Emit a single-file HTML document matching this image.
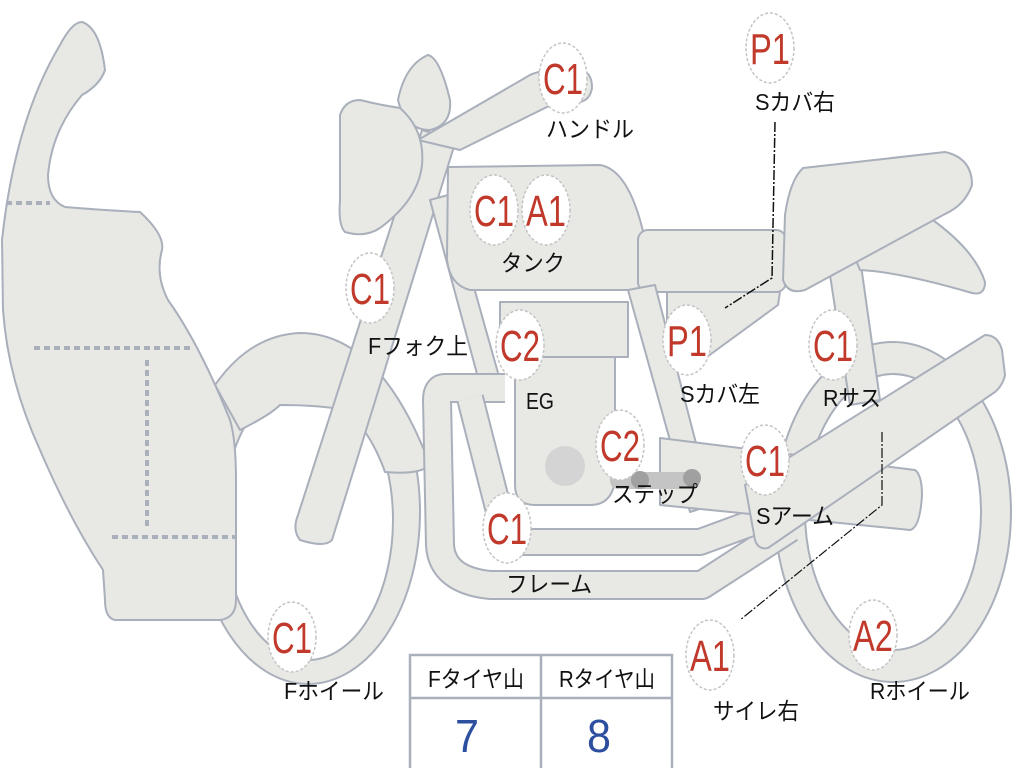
<!DOCTYPE html>
<html><head><meta charset="utf-8"><style>
html,body{margin:0;padding:0;background:#fff;}
svg{display:block;}
.s{fill:#e8e8e4;stroke:#a9afbb;stroke-width:2;stroke-linejoin:round;}
.b{fill:#fff;stroke:#c4c4c4;stroke-width:1.5;stroke-dasharray:3 2;}
.r{fill:#c0392b;font-family:"Liberation Sans",sans-serif;font-size:44px;}
.l{fill:#111;font-family:"Liberation Sans","Noto Sans CJK JP",sans-serif;font-size:23px;}
</style></head><body>
<svg width="1024" height="768" viewBox="0 0 1024 768" xmlns="http://www.w3.org/2000/svg">
<!-- rear wheel -->
<ellipse cx="893" cy="512" rx="118" ry="170" class="s"/>
<ellipse cx="893" cy="512" rx="88" ry="138" fill="#fff" stroke="#a9afbb" stroke-width="2"/>
<!-- front wheel -->
<ellipse cx="308" cy="512" rx="112" ry="172" class="s"/>
<ellipse cx="308" cy="520" rx="85" ry="140" fill="#fff" stroke="#a9afbb" stroke-width="2"/>
<!-- fender -->
<path class="s" d="M215 385 Q250 335 300 333 Q380 333 430 465 Q420 475 385 472 Q370 430 345 410 Q320 405 280 405 Q270 415 240 430 Z"/>
<!-- fork -->
<path class="s" d="M422 130 L456 140 L332 540 Q325 548 300 540 Q292 530 298 515 Z"/>
<!-- handlebar -->
<path class="s" d="M418 140 L530 75 Q540 70 560 70 L585 72 Q592 75 592 88 Q590 100 580 102 L555 103 L460 150 Z"/>
<!-- top blob -->
<path class="s" d="M398 100 Q405 65 428 55 Q440 58 450 100 Q452 125 430 130 Q405 130 398 100 Z"/>
<!-- headlight -->
<path class="s" d="M340 115 Q345 100 360 100 Q380 105 400 108 Q425 130 422 165 Q418 200 380 228 Q365 238 345 232 Q338 225 340 200 Z"/>
<!-- frame down tube -->
<path class="s" d="M430 200 L448 195 L500 380 L480 385 Z"/>
<!-- tank -->
<path class="s" d="M448 167 L600 165 Q630 170 645 240 L646 290 L470 290 Q450 285 447 260 Z"/>
<!-- seat -->
<rect x="638" y="230" width="148" height="62" rx="10" class="s"/>
<!-- side cover right -->
<path class="s" d="M667 292 L780 292 L778 305 L700 362 L667 360 Z"/>
<!-- shock -->
<path class="s" d="M828 262 L860 258 L880 400 L850 405 Z"/>
<!-- tail fin -->
<path class="s" d="M840 222 L930 218 Q975 250 985 282 Q985 296 972 293 Q900 272 860 270 Z"/>
<!-- rear cowl -->
<path class="s" d="M803 168 L945 152 Q972 158 972 185 Q965 205 945 214 L805 290 Q788 295 783 280 L785 215 Q790 180 803 168 Z"/>
<!-- frame vertical (S cover left area) -->
<path class="s" d="M628 290 L655 285 L712 505 L690 512 Z"/>
<!-- frame loops -->
<path d="M505 388 L445 388 Q437 388 437 400 L440 545 Q442 580 490 585 L702 585 L790 528" fill="none" stroke="#a9afbb" stroke-width="30" stroke-linejoin="round"/>
<path d="M505 388 L445 388 Q437 388 437 400 L440 545 Q442 580 490 585 L702 585 L790 528" fill="none" stroke="#e8e8e4" stroke-width="26" stroke-linejoin="round"/>
<path d="M470 398 L505 535 Q510 542 520 542 L700 542 L760 520" fill="none" stroke="#a9afbb" stroke-width="28" stroke-linejoin="round"/>
<path d="M470 398 L505 535 Q510 542 520 542 L700 542 L760 520" fill="none" stroke="#e8e8e4" stroke-width="24" stroke-linejoin="round"/>
<!-- engine -->
<path class="s" d="M515 355 L615 355 L615 480 Q612 505 590 505 L535 505 Q515 505 515 485 Z"/>
<rect x="500" y="302" width="128" height="55" class="s"/>
<circle cx="565" cy="466" r="20" fill="#d4d4d4"/>
<!-- Sarm lower bar -->
<path class="s" d="M660 438 L915 470 Q922 475 922 495 Q920 528 910 530 L660 505 Z"/>
<!-- steps -->
<rect x="610" y="472" width="90" height="17" rx="8" fill="#c4c4c4"/>
<circle cx="640" cy="480" r="9" fill="#a0a0a0"/>
<circle cx="692" cy="478" r="9" fill="#a0a0a0"/>
<!-- swingarm -->
<path class="s" d="M745 485 L985 335 Q998 335 1002 350 L1005 375 Q1003 385 995 392 L768 548 Q758 550 755 540 Z"/>
<!-- fairing -->
<path class="s" d="M82 22 Q100 28 105 70 Q100 85 82 95 Q52 130 48 175 Q48 200 65 207 Q100 210 140 212 Q165 235 162 250 Q155 275 168 300 Q200 345 230 420 Q236 440 236 480 L236 600 Q236 618 220 620 L115 620 Q105 618 105 600 L103 570 Q70 520 40 450 Q8 380 3 310 L2 240 Q15 120 60 45 Q72 22 82 22 Z"/>
<g stroke="#a9afbb" stroke-width="4" stroke-dasharray="6 4" fill="none">
<line x1="6" y1="203" x2="50" y2="203"/>
<line x1="34" y1="348" x2="190" y2="348"/>
<line x1="147" y1="360" x2="147" y2="530"/>
<line x1="112" y1="537" x2="235" y2="537"/>
</g>
<!-- leader lines -->
<polyline points="775,122 772,278 725,308" fill="none" stroke="#111" stroke-width="1.5" stroke-dasharray="10 2 2 2"/>
<polyline points="882,432 882,505 740,620" fill="none" stroke="#111" stroke-width="1.2" stroke-dasharray="10 2 2 2"/>
<!-- badges -->
<g>
<ellipse cx="563" cy="78" rx="24" ry="35" class="b"/><text x="563" y="94" class="r" text-anchor="middle" textLength="40" lengthAdjust="spacingAndGlyphs">C1</text>
<ellipse cx="770" cy="48" rx="24" ry="35" class="b"/><text x="770" y="64" class="r" text-anchor="middle" textLength="40" lengthAdjust="spacingAndGlyphs">P1</text>
<ellipse cx="494" cy="210" rx="24" ry="35" class="b"/><text x="494" y="226" class="r" text-anchor="middle" textLength="40" lengthAdjust="spacingAndGlyphs">C1</text>
<ellipse cx="546" cy="210" rx="24" ry="35" class="b"/><text x="546" y="226" class="r" text-anchor="middle" textLength="40" lengthAdjust="spacingAndGlyphs">A1</text>
<ellipse cx="370" cy="288" rx="24" ry="35" class="b"/><text x="370" y="304" class="r" text-anchor="middle" textLength="40" lengthAdjust="spacingAndGlyphs">C1</text>
<ellipse cx="520" cy="345" rx="24" ry="35" class="b"/><text x="520" y="361" class="r" text-anchor="middle" textLength="40" lengthAdjust="spacingAndGlyphs">C2</text>
<ellipse cx="687" cy="340" rx="24" ry="35" class="b"/><text x="687" y="356" class="r" text-anchor="middle" textLength="40" lengthAdjust="spacingAndGlyphs">P1</text>
<ellipse cx="833" cy="345" rx="24" ry="35" class="b"/><text x="833" y="361" class="r" text-anchor="middle" textLength="40" lengthAdjust="spacingAndGlyphs">C1</text>
<ellipse cx="620" cy="445" rx="24" ry="35" class="b"/><text x="620" y="461" class="r" text-anchor="middle" textLength="40" lengthAdjust="spacingAndGlyphs">C2</text>
<ellipse cx="765" cy="460" rx="24" ry="35" class="b"/><text x="765" y="476" class="r" text-anchor="middle" textLength="40" lengthAdjust="spacingAndGlyphs">C1</text>
<ellipse cx="507" cy="528" rx="24" ry="35" class="b"/><text x="507" y="544" class="r" text-anchor="middle" textLength="40" lengthAdjust="spacingAndGlyphs">C1</text>
<ellipse cx="292" cy="637" rx="24" ry="35" class="b"/><text x="292" y="653" class="r" text-anchor="middle" textLength="40" lengthAdjust="spacingAndGlyphs">C1</text>
<ellipse cx="710" cy="655" rx="24" ry="35" class="b"/><text x="710" y="671" class="r" text-anchor="middle" textLength="40" lengthAdjust="spacingAndGlyphs">A1</text>
<ellipse cx="873" cy="635" rx="24" ry="35" class="b"/><text x="873" y="651" class="r" text-anchor="middle" textLength="40" lengthAdjust="spacingAndGlyphs">A2</text>
</g>
<!-- labels -->
<g class="l" text-anchor="middle">
<text x="590" y="137" textLength="88" lengthAdjust="spacingAndGlyphs">ハンドル</text>
<text x="795" y="110" textLength="80" lengthAdjust="spacingAndGlyphs">Sカバ右</text>
<text x="533" y="271" textLength="64" lengthAdjust="spacingAndGlyphs">タンク</text>
<text x="418" y="354" textLength="100" lengthAdjust="spacingAndGlyphs">Fフォク上</text>
<text x="540" y="409" textLength="28" lengthAdjust="spacingAndGlyphs">EG</text>
<text x="720" y="402" textLength="80" lengthAdjust="spacingAndGlyphs">Sカバ左</text>
<text x="852" y="406" textLength="58" lengthAdjust="spacingAndGlyphs">Rサス</text>
<text x="655" y="502" textLength="86" lengthAdjust="spacingAndGlyphs">ステップ</text>
<text x="795" y="524" textLength="78" lengthAdjust="spacingAndGlyphs">Sアーム</text>
<text x="549" y="592" textLength="86" lengthAdjust="spacingAndGlyphs">フレーム</text>
<text x="334" y="699" textLength="100" lengthAdjust="spacingAndGlyphs">Fホイール</text>
<text x="756" y="719" textLength="86" lengthAdjust="spacingAndGlyphs">サイレ右</text>
<text x="920" y="699" textLength="100" lengthAdjust="spacingAndGlyphs">Rホイール</text>
</g>
<!-- table -->
<g fill="none" stroke="#a9afbb" stroke-width="2.5">
<rect x="410" y="655" width="262" height="118"/>
<line x1="410" y1="698" x2="672" y2="698"/>
<line x1="541" y1="655" x2="541" y2="768"/>
</g>
<g class="l" text-anchor="middle">
<text x="476" y="687" textLength="96" lengthAdjust="spacingAndGlyphs">Fタイヤ山</text>
<text x="607" y="687" textLength="96" lengthAdjust="spacingAndGlyphs">Rタイヤ山</text>
</g>
<g fill="#2d4fa0" font-family="Liberation Sans,sans-serif" font-size="46" text-anchor="middle">
<text x="467" y="752" textLength="24" lengthAdjust="spacingAndGlyphs">7</text>
<text x="599" y="752" textLength="24" lengthAdjust="spacingAndGlyphs">8</text>
</g>
</svg>
</body></html>
